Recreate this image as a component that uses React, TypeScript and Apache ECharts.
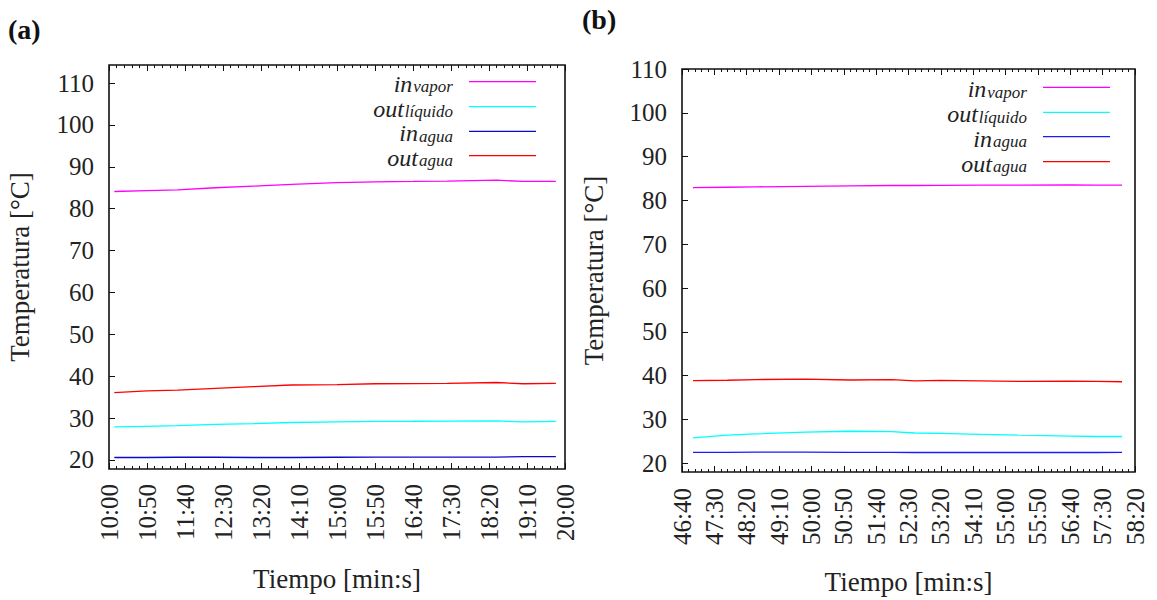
import React, { useEffect, useRef } from "react";
import * as echarts from "echarts";

// ---------- data ----------
const yTickValues = [20, 30, 40, 50, 60, 70, 80, 90, 100, 110];
const seriesNames = ["in_vapor", "out_líquido", "in_agua", "out_agua"];
const legendMain = ["in", "out", "in", "out"];
const legendSub = ["vapor", "líquido", "agua", "agua"];

// panel (a) — times in seconds (10:00 = 600 s)
const timesA = [607, 650, 690, 740, 790, 840, 900, 950, 1000, 1045, 1110, 1145, 1188];
const inVaporA = [84.1, 84.3, 84.5, 85.0, 85.4, 85.8, 86.2, 86.4, 86.5, 86.6, 86.8, 86.5, 86.5];
const outLiquidoA = [27.9, 28.05, 28.2, 28.5, 28.7, 28.95, 29.1, 29.2, 29.25, 29.3, 29.35, 29.1, 29.2];
const inAguaA = [20.6, 20.6, 20.65, 20.65, 20.6, 20.6, 20.65, 20.7, 20.7, 20.7, 20.7, 20.8, 20.8];
const outAguaA = [36.1, 36.5, 36.7, 37.1, 37.5, 37.9, 38.0, 38.2, 38.25, 38.3, 38.5, 38.2, 38.3];

// panel (b) — times in seconds (46:40 = 2800 s)
const timesB = [2817, 2870, 2914, 2990, 3060, 3124, 3160, 3200, 3260, 3320, 3400, 3440, 3480];
const inVaporB = [82.9, 83.0, 83.1, 83.2, 83.3, 83.4, 83.4, 83.45, 83.5, 83.5, 83.55, 83.5, 83.5];
const outLiquidoB = [25.8, 26.4, 26.7, 27.1, 27.3, 27.2, 26.9, 26.8, 26.6, 26.4, 26.2, 26.1, 26.1];
const inAguaB = [22.5, 22.5, 22.55, 22.55, 22.5, 22.5, 22.45, 22.45, 22.45, 22.45, 22.45, 22.45, 22.5];
const outAguaB = [38.85, 38.95, 39.1, 39.2, 39.0, 39.1, 38.8, 38.9, 38.8, 38.7, 38.75, 38.7, 38.6];

const xRangeA = [600, 1200];
const xRangeB = [2800, 3500];
const yRangeA = [17.85, 114.3];
const yRangeB = [18, 110];

const colorsA = ["#ff00ff", "#00ffff", "#0a0acc", "#ff0000"];
const colorsB = ["#ff00ff", "#00ffff", "#1a1aff", "#ff0000"];

const FONT = "Liberation Serif";

const fmtTime = (v: number) => {
  const m = Math.floor(v / 60);
  const s = Math.round(v - m * 60);
  return `${m}:${String(s).padStart(2, "0")}`;
};

let measureCtx: CanvasRenderingContext2D | null = null;
const measure = (text: string, font: string) => {
  if (!measureCtx) measureCtx = document.createElement("canvas").getContext("2d");
  if (!measureCtx) return text.length * 8;
  measureCtx.font = font;
  return measureCtx.measureText(text).width;
};

export default function App() {
  const ref = useRef<HTMLDivElement>(null);

  useEffect(() => {
    if (!ref.current) return;
    const chart = echarts.init(ref.current, undefined, { renderer: "svg" });

    const grids = [
      { left: 109, top: 65, width: 456, height: 404 },
      { left: 682, top: 69, width: 453, height: 406 },
    ];

    const tickColor = "#111";
    const labelColor = "#222";

    const xAxisBottom = (gi: number, range: number[], nameGap: number, labelMargin: number) => ({
      type: "value",
      gridIndex: gi,
      position: "bottom",
      min: range[0],
      max: range[1],
      interval: 50,
      name: "Tiempo [min:s]",
      nameLocation: "middle",
      nameGap,
      nameTextStyle: { fontFamily: FONT, fontSize: 27, color: labelColor },
      axisLine: { show: false },
      axisTick: { show: true, inside: true, length: 6, lineStyle: { color: tickColor, width: 1 } },
      minorTick: { show: true, splitNumber: 5, length: 3, lineStyle: { color: tickColor, width: 1 } },
      splitLine: { show: false },
      axisLabel: {
        rotate: 90,
        margin: labelMargin,
        fontFamily: FONT,
        fontSize: 25,
        color: labelColor,
        formatter: fmtTime,
      },
    });

    const xAxisTop = (gi: number, range: number[]) => ({
      type: "value",
      gridIndex: gi,
      position: "top",
      min: range[0],
      max: range[1],
      interval: 50,
      axisLine: { show: false },
      axisTick: { show: true, inside: true, length: 6, lineStyle: { color: tickColor, width: 1 } },
      minorTick: { show: true, splitNumber: 5, length: 3, lineStyle: { color: tickColor, width: 1 } },
      splitLine: { show: false },
      axisLabel: { show: false },
    });

    const yAxis = (gi: number, range: number[], nameGap: number) => ({
      type: "value",
      gridIndex: gi,
      min: range[0],
      max: range[1],
      name: "Temperatura [°C]",
      nameLocation: "middle",
      nameGap,
      nameTextStyle: { fontFamily: FONT, fontSize: 27, color: labelColor },
      axisLine: { show: false },
      axisTick: {
        show: true,
        inside: true,
        length: 6,
        customValues: yTickValues,
        lineStyle: { color: tickColor, width: 1 },
      },
      splitLine: { show: false },
      axisLabel: {
        customValues: yTickValues,
        margin: 15,
        fontFamily: FONT,
        fontSize: 25,
        color: labelColor,
      },
    });

    const mk = (name: string, times: number[], vals: number[], color: string, xi: number, yi: number) => ({
      type: "line",
      name,
      xAxisIndex: xi,
      yAxisIndex: yi,
      data: times.map((t, i) => [t, vals[i]]),
      symbol: "none",
      showSymbol: false,
      lineStyle: { color, width: 1.3 },
      itemStyle: { color },
    });

    const dataA = [inVaporA, outLiquidoA, inAguaA, outAguaA];
    const dataB = [inVaporB, outLiquidoB, inAguaB, outAguaB];

    const series = [
      ...dataA.map((d, i) => mk(seriesNames[i], timesA, d, colorsA[i], 0, 0)),
      ...dataB.map((d, i) => mk(seriesNames[i], timesB, d, colorsB[i], 2, 1)),
    ];

    const legendPanels = [
      { textRight: 453, x0: 469, x1: 536, rows: [81.7, 106.7, 131.3, 155.7], colors: colorsA },
      { textRight: 1027, x0: 1043, x1: 1110, rows: [87.3, 112.3, 136.7, 161.7], colors: colorsB },
    ];

    const mainFont = `italic 24px ${FONT}`;
    const subFont = `italic 17px ${FONT}`;

    const graphic: any[] = [];
    legendPanels.forEach((p) => {
      p.rows.forEach((y, i) => {
        const subW = measure(legendSub[i], subFont);
        graphic.push({
          type: "text",
          x: p.textRight - subW - 1,
          y: y + 2,
          style: {
            text: legendMain[i],
            font: mainFont,
            lineHeight: 18,
            align: "right",
            verticalAlign: "middle",
            fill: labelColor,
          },
        });
        graphic.push({
          type: "text",
          x: p.textRight,
          y: y + 5,
          style: {
            text: legendSub[i],
            font: subFont,
            lineHeight: 12,
            align: "right",
            verticalAlign: "middle",
            fill: labelColor,
          },
        });
        graphic.push({
          type: "line",
          shape: { x1: p.x0, y1: y, x2: p.x1, y2: y },
          style: { stroke: p.colors[i], lineWidth: 1.3 },
        });
      });
    });

    graphic.push({
      type: "text",
      x: 8,
      y: 29,
      style: {
        text: "(a)",
        font: `bold 28px ${FONT}`,
        fill: "#111",
        verticalAlign: "middle",
      },
    });
    graphic.push({
      type: "text",
      x: 582,
      y: 19,
      style: {
        text: "(b)",
        font: `bold 28px ${FONT}`,
        fill: "#111",
        verticalAlign: "middle",
      },
    });

    chart.setOption({
      animation: false,
      backgroundColor: "#ffffff",
      grid: grids.map((g) => ({
        ...g,
        show: true,
        borderColor: "#111",
        borderWidth: 1.6,
        backgroundColor: "transparent",
      })),
      xAxis: [
        xAxisBottom(0, xRangeA, 96, 15),
        xAxisTop(0, xRangeA),
        xAxisBottom(1, xRangeB, 96, 16),
        xAxisTop(1, xRangeB),
      ],
      yAxis: [yAxis(0, yRangeA, 76), yAxis(1, yRangeB, 75)],
      series,
      graphic,
    });

    return () => chart.dispose();
  }, []);

  return (
    <div
      ref={ref}
      style={{ position: "absolute", left: 0, top: 0, width: 1157, height: 600 }}
    />
  );
}
